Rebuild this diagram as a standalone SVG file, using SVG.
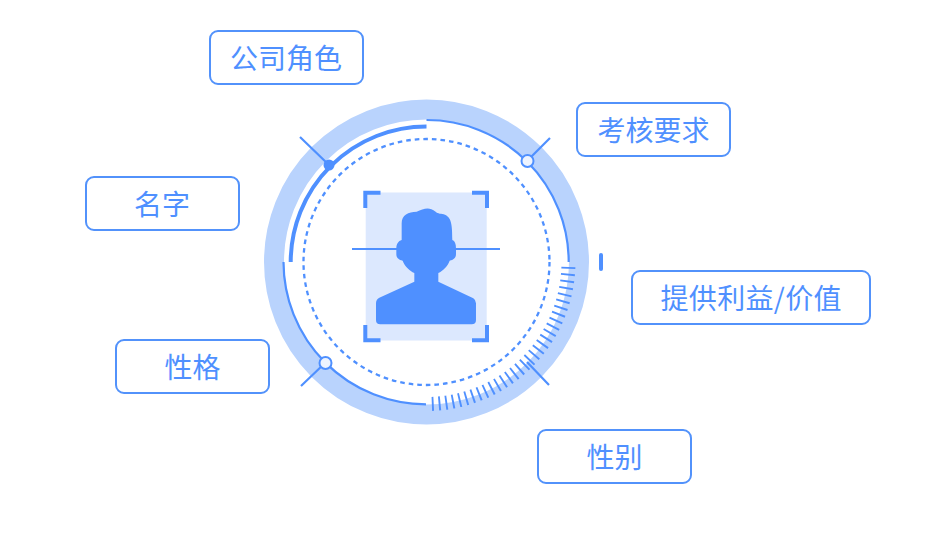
<svg xmlns="http://www.w3.org/2000/svg" width="943" height="534" viewBox="0 0 943 534">
<style>
.box{fill:#fff;stroke:#5292fb;stroke-width:2}
.lbl{font-family:"Noto Sans CJK SC","Noto Sans",sans-serif;font-size:28px;fill:#4f90ff;text-anchor:middle}
.ln{fill:none;stroke:#4f90ff;stroke-width:2.200}
</style>
<rect width="943" height="534" fill="#fff"/>
<g id="dial">
<circle cx="426.5" cy="262" r="152.5" fill="none" stroke="#b9d3fd" stroke-width="20"/>
<circle cx="426.5" cy="262" r="123" fill="none" stroke="#4f90ff" stroke-width="2.300" stroke-dasharray="4.6 4"/>
<path class="ln" d="M426.5 120A142 142 0 0 1 568.7 262"/>
<path class="ln" d="M283.5 262A142.5 142.5 0 0 0 426 404.3"/>
<path d="M290.7 262A135.8 135.8 0 0 1 426.5 126.5" fill="none" stroke="#4f90ff" stroke-width="4"/>
<path d="M568.4 266.9A142 142 0 0 1 431.5 403.9" fill="none" stroke="#4f90ff" stroke-width="14" stroke-dasharray="1.900 4.900"/>
<rect x="599" y="253" width="4" height="18" rx="2" fill="#4f90ff"/>
</g>
<g id="portrait">
<rect x="365.7" y="192.5" width="121" height="148" fill="#dce8fe"/>
<path d="M380.5 192.700H365.300V208M472 192.700H487V208M365.300 325V340.300H380.500M487 325V340.300H472" fill="none" stroke="#4f90ff" stroke-width="4"/>
<path class="ln" d="M352 249H400M453 249H500"/>
<path transform="translate(345 180) scale(.3333)" fill="#4f90ff" d="M170 130C170 105 190 95 215 95C235 88 250 78 272 95C278 102 290 100 300 104C318 112 322 130 322 180C330 183 333 192 333 205V222C333 234 325 240 314 242C307 260 294 272 280 279V305L385 355Q393 360 393 370V420Q393 433 380 433H106Q93 433 93 420V370Q93 358 103 353L208 305V279C194 272 180 260 173 242C162 240 154 234 154 222V205C154 192 160 183 170 180Z"/>
</g>
<g id="connectors">
<path class="ln" d="M300 137L329 165M550 138L527 161M301 386L325 363M527 362L549 385"/>
<circle cx="329" cy="165" r="5.500" fill="#4f90ff"/>
<circle cx="527.500" cy="161" r="6" fill="#eef4ff" stroke="#4f90ff" stroke-width="2"/>
<circle cx="325.500" cy="363" r="6" fill="#eef4ff" stroke="#4f90ff" stroke-width="2"/>
</g>
<g id="node-role"><rect class="box" x="210" y="31" width="153" height="53" rx="8"/><text class="lbl" x="286" y="69">公司角色</text></g>
<g id="node-kpi"><rect class="box" x="577" y="103" width="153" height="53" rx="8"/><text class="lbl" x="653.500" y="141">考核要求</text></g>
<g id="node-name"><rect class="box" x="86" y="177" width="153" height="53" rx="8"/><text class="lbl" x="162" y="215">名字</text></g>
<g id="node-value"><rect class="box" x="632" y="271" width="238" height="53" rx="8"/><text class="lbl" x="751" y="309" textLength="181">提供利益/价值</text></g>
<g id="node-character"><rect class="box" x="116" y="340" width="153" height="53" rx="8"/><text class="lbl" x="192.500" y="378">性格</text></g>
<g id="node-gender"><rect class="box" x="538" y="430" width="153" height="53" rx="8"/><text class="lbl" x="614.500" y="468">性别</text></g>
</svg>
